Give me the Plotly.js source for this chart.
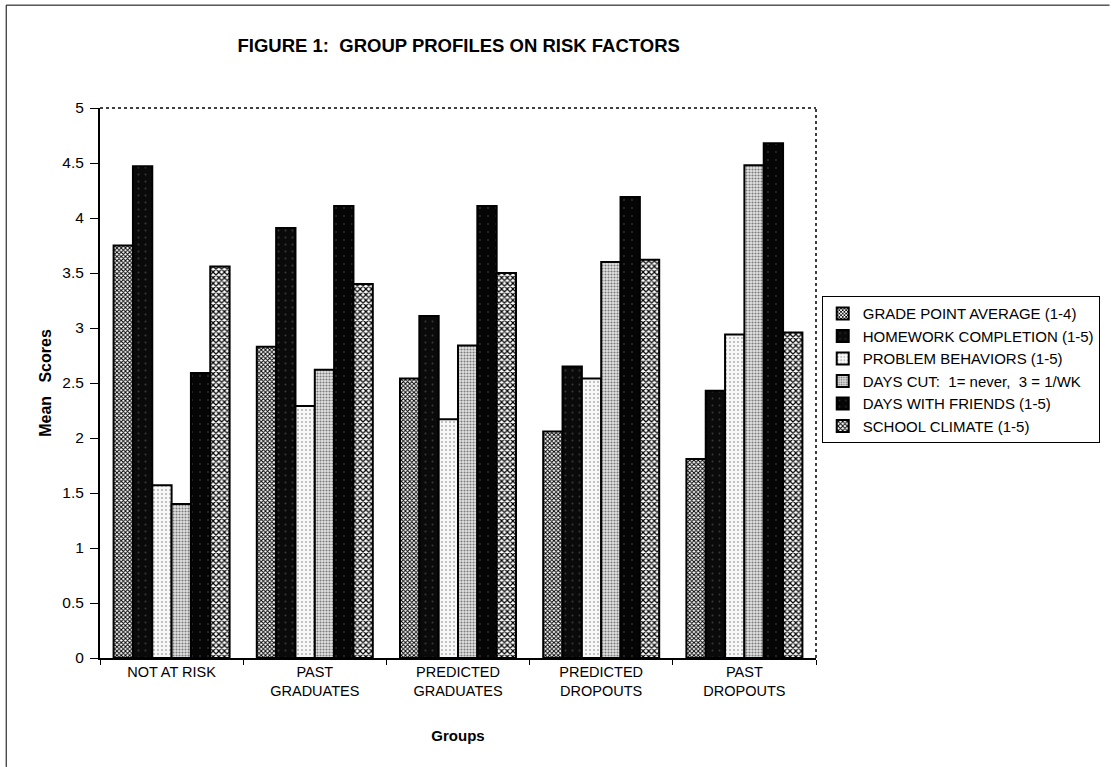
<!DOCTYPE html>
<html><head><meta charset="utf-8">
<script src="https://cdn.plot.ly/plotly-3.0.1.min.js"></script>
<style>body{margin:0;background:#fff}#c{width:1116px;height:767px}</style>
</head><body><div id="c"></div>
<script>
const groups = ["NOT AT RISK", "PAST<br>GRADUATES", "PREDICTED<br>GRADUATES", "PREDICTED<br>DROPOUTS", "PAST<br>DROPOUTS"];
const seriesNames = ["GRADE POINT AVERAGE (1-4)", "HOMEWORK COMPLETION (1-5)", "PROBLEM BEHAVIORS (1-5)", "DAYS CUT:  1= never,  3 = 1/WK", "DAYS WITH FRIENDS (1-5)", "SCHOOL CLIMATE (1-5)"];
const gpa       = [3.75, 2.83, 2.54, 2.06, 1.81];
const homework  = [4.47, 3.91, 3.11, 2.65, 2.43];
const problems  = [1.57, 2.29, 2.17, 2.54, 2.94];
const daysCut   = [1.40, 2.62, 2.84, 3.60, 4.48];
const friends   = [2.59, 4.11, 4.11, 4.19, 4.68];
const climate   = [3.56, 3.40, 3.50, 3.62, 2.96];
const yTicks = [0, 0.5, 1, 1.5, 2, 2.5, 3, 3.5, 4, 4.5, 5];

const values = [gpa, homework, problems, daysCut, friends, climate];
const styles = [
  {color:"#777", pattern:{shape:"x", fgcolor:"#000", bgcolor:"#fff", size:3, solidity:0.55}},
  {color:"#0c0c0c", pattern:{shape:".", fgcolor:"#3a3a3a", bgcolor:"#0a0a0a", size:7, solidity:0.06}},
  {color:"#f4f4f4", pattern:{shape:".", fgcolor:"#b0b0b0", bgcolor:"#f8f8f8", size:4, solidity:0.2}},
  {color:"#c8c8c8", pattern:{shape:".", fgcolor:"#7a7a7a", bgcolor:"#e4e4e4", size:3, solidity:0.4}},
  {color:"#080808", pattern:{shape:".", fgcolor:"#2e2e2e", bgcolor:"#050505", size:8, solidity:0.05}},
  {color:"#777", pattern:{shape:"x", fgcolor:"#000", bgcolor:"#fff", size:4, solidity:0.5}}
];
const traces = values.map((v,i)=>({
  type:"bar", x:groups, y:v, name:seriesNames[i],
  marker:{color:styles[i].color, pattern:styles[i].pattern, line:{color:"#000", width:2}},
  hoverinfo:"y"
}));

const font = "Liberation Sans, Arial, Helvetica, sans-serif";
const layout = {
  width:1116, height:767,
  margin:{l:100, r:300, t:108, b:109},
  paper_bgcolor:"#fff", plot_bgcolor:"#fff",
  title:{text:"<b>FIGURE 1:  GROUP PROFILES ON RISK FACTORS</b>", x:0.411, xanchor:"center", y:0.941, yanchor:"middle",
         font:{family:font, size:18.5, color:"#000"}},
  barmode:"group", bargap:0.19, bargroupgap:0,
  xaxis:{
    showline:true, linecolor:"#000", linewidth:2, mirror:false,
    ticks:"outside", tickson:"boundaries", ticklen:5, tickcolor:"#000",
    tickfont:{family:font, size:14.5, color:"#000"},
    title:{text:"<b>Groups</b>", font:{family:font, size:15, color:"#000"}, standoff:32},
    showgrid:false, fixedrange:true
  },
  yaxis:{
    range:[0,5], tickvals:yTicks, ticktext:yTicks.map(String),
    showline:true, linecolor:"#000", linewidth:2,
    ticks:"outside", ticklen:8, tickcolor:"#000", ticklabelstandoff:3,
    tickfont:{family:font, size:15.5, color:"#000"},
    title:{text:"<b>Mean   Scores</b>", font:{family:font, size:16, color:"#000"}, standoff:7},
    showgrid:false, zeroline:false, fixedrange:true
  },
  legend:{
    x:1.008, xanchor:"left", y:0.524, yanchor:"middle",
    bordercolor:"#000", borderwidth:1, bgcolor:"#fff",
    font:{family:font, size:15, color:"#000"},
    tracegroupgap:0, itemwidth:30
  },
  showlegend:true,
  shapes:[
    {type:"line", xref:"paper", yref:"paper", x0:0, x1:1, y0:1, y1:1, line:{color:"#000", width:1.5, dash:"dot"}},
    {type:"line", xref:"paper", yref:"paper", x0:1, x1:1, y0:0, y1:1, line:{color:"#000", width:1.5, dash:"dot"}},
    {type:"line", xref:"paper", yref:"paper", x0:-0.131, x1:1.41, y0:1.187, y1:1.187, line:{color:"#000", width:1}},
    {type:"line", xref:"paper", yref:"paper", x0:-0.131, x1:-0.131, y0:1.187, y1:-0.198, line:{color:"#000", width:1}}
  ]
};
Plotly.newPlot("c", traces, layout, {displayModeBar:false, staticPlot:true});
</script></body></html>
